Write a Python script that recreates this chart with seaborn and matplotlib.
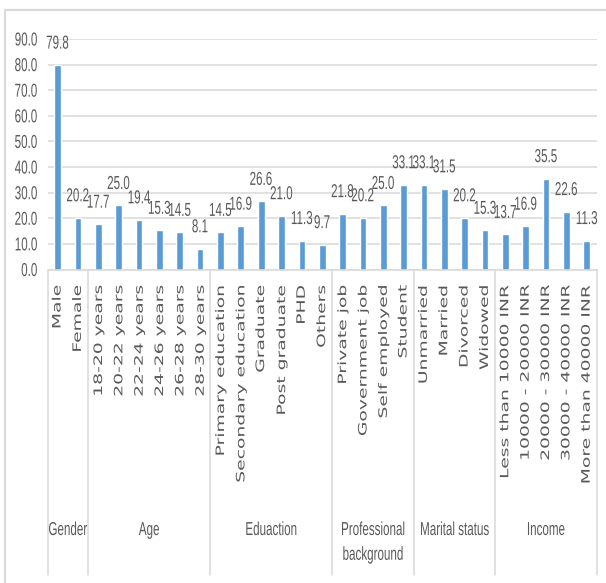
import matplotlib
matplotlib.use("Agg")
import matplotlib.pyplot as plt
import matplotlib.transforms as mtransforms
from matplotlib.lines import Line2D
from matplotlib.patheffects import AbstractPathEffect
import pandas as pd
import seaborn as sns

# Survey profile: share of respondents (%) per category
categories = [
    "Male", "Female",
    "18-20 years", "20-22 years", "22-24 years", "24-26 years", "26-28 years", "28-30 years",
    "Primary education", "Secondary education", "Graduate", "Post graduate", "PHD", "Others",
    "Private job", "Government job", "Self employed", "Student",
    "Unmarried", "Married", "Divorced", "Widowed",
    "Less than 10000 INR", "10000 - 20000 INR", "20000 - 30000 INR",
    "30000 - 40000 INR", "More than 40000 INR",
]
values = [
    79.8, 20.2,
    17.7, 25.0, 19.4, 15.3, 14.5, 8.1,
    14.5, 16.9, 26.6, 21.0, 11.3, 9.7,
    21.8, 20.2, 25.0, 33.1,
    33.1, 31.5, 20.2, 15.3,
    13.7, 16.9, 35.5, 22.6, 11.3,
]
groups = ["Gender", "Age", "Eduaction", "Professional\nbackground", "Marital status", "Income"]
group_sizes = [2, 6, 6, 4, 4, 5]
y_ticks = [0, 10, 20, 30, 40, 50, 60, 70, 80, 90]

df = pd.DataFrame({"category": categories, "value": values})


class Condensed(AbstractPathEffect):
    """Draw glyphs narrower on screen, keeping the given horizontal anchor fixed."""

    def __init__(self, sx=0.62, anchor="center"):
        super().__init__()
        self.sx = sx
        self.anchor = anchor

    def draw_path(self, renderer, gc, tpath, affine, rgbFace=None):
        verts = affine.transform(tpath.vertices)
        if len(verts) == 0:
            renderer.draw_path(gc, tpath, affine, rgbFace)
            return
        xmin, xmax = verts[:, 0].min(), verts[:, 0].max()
        x0 = {"center": (xmin + xmax) / 2, "right": xmax, "left": xmin}[self.anchor]
        squeeze = (mtransforms.Affine2D().translate(-x0, 0)
                   .scale(self.sx, 1).translate(x0, 0))
        renderer.draw_path(gc, tpath, affine + squeeze, rgbFace)


W, H = 606, 583
sns.set_theme(style="white")
plt.rcParams["font.family"] = ["Liberation Sans", "DejaVu Sans"]
text_color = "#595959"
line_color = "#d9d9d9"
bar_color = "#5b9bd5"
SX = 0.62
cond_c = [Condensed(SX, "center")]
cond_r = [Condensed(SX, "right")]

fig = plt.figure(figsize=(W / 100, H / 100), dpi=100)
fig.patch.set_facecolor("white")
ax = fig.add_axes([47.5 / W, 1 - 269.5 / H, (597 - 47.5) / W, (269.5 - 39) / H])

sns.barplot(data=df, x="category", y="value", order=categories, color=bar_color,
            saturation=1, width=0.33, ax=ax, errorbar=None)

ax.set_ylim(0, 90)
ax.set_xlim(-0.5, len(categories) - 0.5)
ax.set_yticks(y_ticks)
ax.set_yticklabels([f"{t:.1f}" for t in y_ticks], fontsize=13.5, color=text_color)
for t in ax.get_yticklabels():
    t.set_path_effects(cond_r)
ax.tick_params(axis="y", length=0, pad=7)
ax.tick_params(axis="x", length=0, pad=11)
ax.set_xticks(range(len(categories)))
ax.set_xticklabels(categories, rotation=90, ha="center", va="top",
                   fontsize=13.5, color=text_color, family=["DejaVu Sans"])
for t in ax.get_xticklabels():
    t.set_path_effects(cond_c)
ax.set_xlabel("")
ax.set_ylabel("")
ax.yaxis.grid(True, color=line_color, linewidth=1.1)
ax.set_axisbelow(True)
for side in ["top", "right", "left"]:
    ax.spines[side].set_visible(False)
ax.spines["bottom"].set_color(line_color)
ax.spines["bottom"].set_linewidth(1.1)

# value labels above each bar
labels = ax.bar_label(ax.containers[0], fmt="%.1f", padding=9, fontsize=13.5,
                      color=text_color)
for t in labels:
    t.set_path_effects(cond_c)

# multi-level category axis: group separators and group names
blend = mtransforms.blended_transform_factory(ax.transData, fig.transFigure)
y_axis_fig = 1 - 269.5 / H
y_sep_end = 1 - 575 / H
edges = [-0.5]
for n in group_sizes:
    edges.append(edges[-1] + n)
for e in edges:
    ax.add_artist(Line2D([e, e], [y_axis_fig, y_sep_end], transform=blend,
                         color=line_color, linewidth=1.1, clip_on=False))
for i, g in enumerate(groups):
    xc = (edges[i] + edges[i + 1]) / 2
    ax.text(xc, 1 - 522 / H, g, transform=blend, ha="center", va="top",
            fontsize=13.5, color=text_color, linespacing=1.6, path_effects=cond_c)

# chart-area border (top and left edges)
fig.add_artist(Line2D([5 / W, 1], [1 - 10 / H, 1 - 10 / H], transform=fig.transFigure,
                      color=line_color, linewidth=1.5))
fig.add_artist(Line2D([5 / W, 5 / W], [0, 1 - 10 / H], transform=fig.transFigure,
                      color=line_color, linewidth=1.5))

fig.savefig("out.png", dpi=100, facecolor="white")
